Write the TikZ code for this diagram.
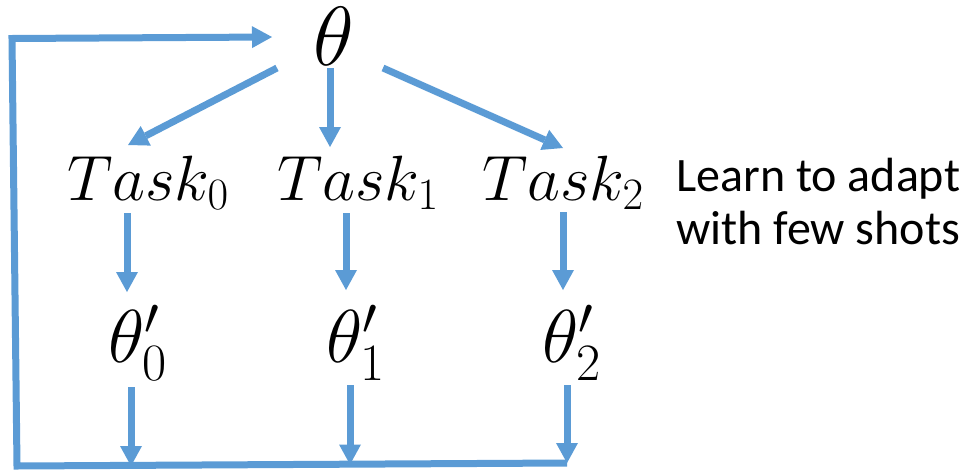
\RequirePackage{fix-cm}
\documentclass[tikz,border=0pt]{standalone}
\usepackage{fontspec}
\newfontfamily\notefont{Carlito}
\usetikzlibrary{arrows.meta}
\definecolor{flow}{RGB}{91,155,213}
\tikzset{
  flowline/.style={draw=flow, line width=7pt},
  flowarrow/.style={flowline, -{Triangle[width=22pt,length=20pt,line width=0pt]}},
  rootsym/.style={inner sep=0pt, anchor=base, font=\fontsize{84}{84}\selectfont},
  taskname/.style={inner sep=0pt, anchor=base west, font=\fontsize{64}{64}\selectfont},
  adapted/.style={inner sep=0pt, anchor=base west, font=\fontsize{75}{75}\selectfont},
  notetext/.style={inner sep=0pt, anchor=base west, align=left,
    font=\notefont\fontsize{48}{53}\selectfont},
}
\begin{document}
\begin{tikzpicture}[x=1pt, y=-1pt]
\useasboundingbox (0,0) rectangle (969,469);

% shared parameters and the three tasks
\node[rootsym] (theta) at (333.5,65) {$\theta$};
\node[taskname] (t0) at (67,200)  {$Task_0$};
\node[taskname] (t1) at (277,200) {$Task_1$};
\node[taskname] (t2) at (482,200) {$Task_2$};

% task-adapted parameters
\node[adapted] (p0) at (108,362) {$\theta'_0$};
\node[adapted] (p1) at (326,362) {$\theta'_1$};
\node[adapted] (p2) at (542,362) {$\theta'_2$};

% two-line note; its base anchor sits on the last line
\node[notetext] (note) at (676,244) {Learn to adapt\\with few shots};

% corners of the feedback loop
\coordinate (br) at (567,463);
\coordinate (bl) at (17,466);
\coordinate (tl) at (12,38.5);
\coordinate (b0) at (131,466);
\coordinate (b1) at (350,464.5);
\coordinate (b2) at (567,463);

% theta to each task
\draw[flowarrow] ([shift={(-56.5,3)}]theta.base) -- ([shift={(61,-55)}]t0.base west);
\draw[flowarrow] ([shift={(-3.5,3)}]theta.base)  -- ([shift={(53,-53)}]t1.base west);
\draw[flowarrow] ([shift={(49.5,3)}]theta.base)  -- ([shift={(81,-52)}]t2.base west);

% each task to its adapted parameters
\draw[flowarrow] ([shift={(60,13)}]t0.base west) -- ([shift={(19,-70)}]p0.base west);
\draw[flowarrow] ([shift={(69,13)}]t1.base west) -- ([shift={(20,-72)}]p1.base west);
\draw[flowarrow] ([shift={(81,12)}]t2.base west) -- ([shift={(21,-72)}]p2.base west);

% adapted parameters down to the loop
\draw[flowarrow] ([shift={(23,25)}]p0.base west) -- (b0);
\draw[flowarrow] ([shift={(24,23)}]p1.base west) -- (b1);
\draw[flowarrow] ([shift={(25,23)}]p2.base west) -- (b2);

% feedback loop back to theta
\draw[flowarrow] (br) -- (bl) -- (tl) -- ([shift={(-61.5,-28)}]theta.base);
\end{tikzpicture}
\end{document}
